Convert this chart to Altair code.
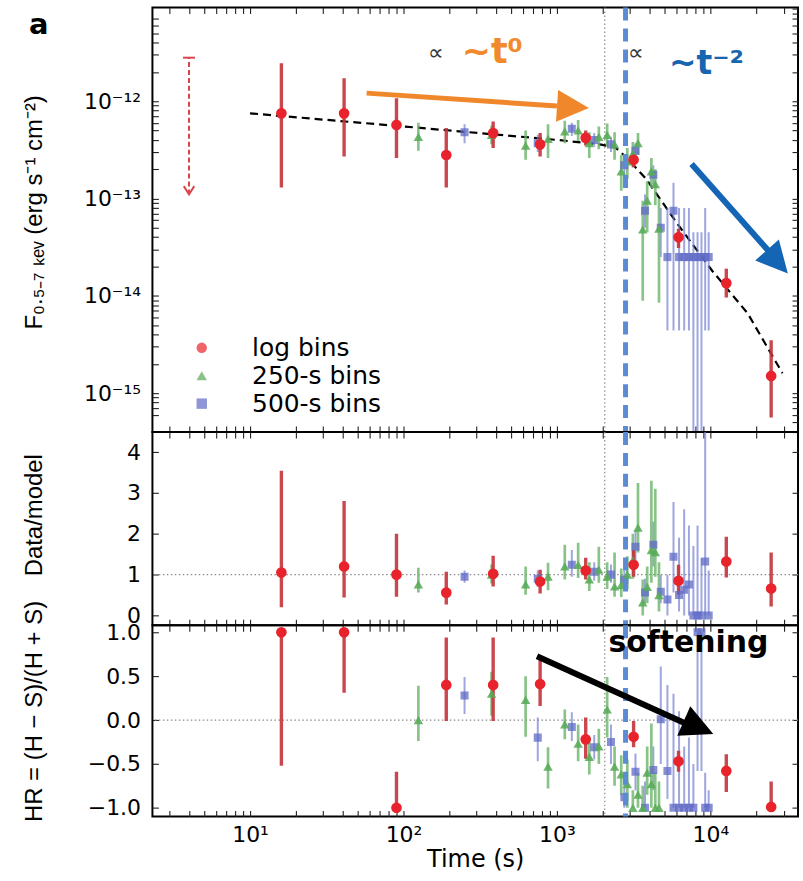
import altair as alt
import pandas as pd

# ------------------------------------------------------------------ data
SERIES = ["log bins", "250-s bins", "500-s bins"]

# log-binned points (red circles)
log_t = [16, 41, 90, 190, 384, 777, 1540, 3160, 6200, 12700, 24900]
log_flux = [7.5e-13, 7.5e-13, 5.7e-13, 2.8e-13, 4.7e-13, 3.6e-13, 4.2e-13, 2.5e-13, 4.0e-14, 1.35e-14, 1.5e-15]
log_flux_lo = [1.3e-13, 2.7e-13, 2.6e-13, 1.3e-13, 3.3e-13, 2.7e-13, 3.5e-13, 2.1e-13, 3.1e-14, 9.6e-15, 5.6e-16]
log_flux_hi = [2.45e-12, 1.72e-12, 1.07e-12, 5.3e-13, 6.2e-13, 4.7e-13, 5.0e-13, 2.9e-13, 4.9e-14, 1.9e-14, 3.5e-15]
log_ratio = [1.05, 1.2, 1.0, 0.56, 1.02, 0.83, 1.1, 1.24, 0.85, 1.32, 0.66]
log_ratio_lo = [0.2, 0.44, 0.46, 0.27, 0.71, 0.54, 0.88, 0.95, 0.51, 0.93, 0.22]
log_ratio_hi = [3.54, 2.8, 2.0, 1.07, 1.46, 1.12, 1.41, 1.6, 1.24, 1.93, 1.54]
log_hr = [1.0, 1.0, -1.0, 0.40, 0.40, 0.41, -0.22, -0.19, -0.47, -0.58, -0.99]
log_hr_lo = [-0.52, 0.31, -1.0, -0.01, -0.01, 0.16, -0.44, -0.31, -0.59, -0.82, -1.0]
log_hr_hi = [1.0, 1.0, -0.59, 0.94, 0.94, 0.69, 0.03, -0.01, -0.35, -0.39, -0.70]

# 250-s bins (green triangles)
g_t = [125, 375, 625, 875, 1125, 1375, 1625, 1875, 2125, 2375, 2625, 2875, 3125, 3375, 3625, 3875, 4125, 4375, 4625]
g_flux = [4.3e-13, 4.5e-13, 3.5e-13, 4.1e-13, 4.9e-13, 5.0e-13, 3.7e-13, 4.3e-13, 4.5e-13, 3.6e-13,
          1.9e-13, 2.4e-13, 2.9e-13, 3.7e-13, 4.8e-14, 9.5e-14, 1.9e-13, 1.4e-13, 4.9e-14]
g_flux_lo = [3.1e-13, 3.6e-13, 2.5e-13, 2.6e-13, 3.7e-13, 3.9e-13, 2.6e-13, 3.2e-13, 3.4e-13, 2.5e-13,
             1.2e-13, 1.6e-13, 2.1e-13, 2.8e-13, 8.9e-15, 4.5e-14, 1.3e-13, 8.5e-14, 8.5e-15]
g_flux_hi = [6.0e-13, 5.6e-13, 5.0e-13, 5.8e-13, 6.3e-13, 6.4e-13, 4.8e-13, 5.5e-13, 5.9e-13, 4.8e-13,
             2.8e-13, 3.3e-13, 3.8e-13, 4.7e-13, 9.5e-14, 1.5e-13, 2.6e-13, 2.0e-13, 1.0e-13]
g_ratio = [0.76, 1.0, 0.76, 0.95, 1.2, 1.24, 0.88, 1.12, 0.95, 0.71, 0.75, 1.0, 1.35, 2.15, 0.32, 0.7, 1.6, 1.55, 0.5]
g_ratio_lo = [0.56, 0.78, 0.51, 0.62, 0.88, 0.92, 0.6, 0.8, 0.65, 0.46, 0.45, 0.65, 0.9, 1.54, 0.0, 0.3, 0.8, 0.95, 0.1]
g_ratio_hi = [1.17, 1.25, 1.2, 1.29, 1.73, 1.78, 1.3, 1.68, 1.3, 1.54, 1.15, 1.45, 2.0, 3.24, 0.88, 1.2, 3.3, 3.1, 1.3]
g_hr = [0.0, 0.3, 0.23, -0.53, -0.05, -0.27, -0.42, -0.3, 0.12, -0.53, -0.62, -0.73, -1.0, -0.85, -1.0, -0.6, -0.73, -1.0, -1.0]
g_hr_lo = [-0.24, 0.05, -0.19, -0.78, -0.22, -0.47, -0.62, -0.5, -0.2, -0.75, -0.85, -1.0, -1.0, -1.0, -1.0, -0.85, -1.0, -1.0, -1.0]
g_hr_hi = [0.39, 0.55, 0.5, -0.31, 0.12, -0.05, -0.2, -0.1, 0.49, -0.3, -0.4, -0.45, -0.8, -0.6, -0.75, -0.3, -0.04, -0.6, -0.7]

# 500-s bins (blue squares)
b_t = [250, 750, 1250, 1750, 2250, 2750, 3250, 3750, 4250, 4750, 5250, 5750, 6250, 6750, 7250, 7750, 8250, 8750, 9250, 9750]
b_flux = [4.8e-13, 3.7e-13, 5.2e-13, 4.0e-13, 3.6e-13, 2.2e-13, 3.1e-13, 7.5e-14, 1.75e-13, 5.0e-14,
          2.5e-14, 7.5e-14, 2.5e-14, 2.5e-14, 2.5e-14, 2.5e-14, 2.5e-14, 2.5e-14, 2.5e-14, 2.5e-14]
b_flux_lo = [3.7e-13, 3.0e-13, 4.4e-13, 3.4e-13, 3.0e-13, 1.7e-13, 2.6e-13, 5.0e-14, 1.4e-13, 2.5e-14,
             4.4e-15, 4.4e-15, 4.4e-15, 4.4e-15, 4.4e-15, 1e-16, 1e-16, 1e-16, 4.4e-15, 4.4e-15]
b_flux_hi = [5.8e-13, 4.5e-13, 6.0e-13, 4.7e-13, 4.3e-13, 2.8e-13, 3.7e-13, 1.1e-13, 2.2e-13, 8.0e-14,
             8.0e-14, 1.45e-13, 8.0e-14, 8.0e-14, 8.0e-14, 4.5e-14, 4.5e-14, 4.5e-14, 8.0e-14, 4.5e-14]
b_ratio = [0.95, 0.9, 1.24, 1.07, 1.0, 0.88, 1.68, 0.56, 1.73, 0.58, 0.39, 1.44, 0.5, 0.63, 0.76, 0.0, 0.0, 0.0, 1.32, 0.0]
b_ratio_lo = [0.8, 0.7, 0.95, 0.85, 0.8, 0.7, 1.3, 0.3, 1.2, 0.3, 0.0, 0.56, 0.1, 0.0, 0.0, 0.0, 0.0, 0.0, 0.0, 0.0]
b_ratio_hi = [1.1, 1.1, 1.6, 1.3, 1.25, 1.1, 2.1, 0.9, 2.3, 1.0, 1.0, 2.78, 1.9, 2.6, 2.2, 1.7, 2.2, 1.4, 4.6, 1.1]
b_hr = [0.28, -0.2, -0.08, -0.31, -0.25, -0.88, -0.59, -1.0, -0.57, 0.01, -0.58, -1.0, -1.0, -1.0, -1.0, -1.0, 1.0, 1.0, -1.0, -1.0]
b_hr_lo = [0.07, -0.47, -0.24, -0.45, -0.5, -1.0, -0.8, -1.0, -0.8, -0.5, -0.9, -1.0, -1.0, -1.0, -1.0, -1.0, -0.58, -0.58, -1.0, -1.0]
b_hr_hi = [0.49, 0.03, 0.09, -0.17, -0.05, -0.65, -0.38, -0.7, -0.3, 0.61, 0.4, 0.3, 0.1, -0.3, -0.2, -0.5, 1.0, 1.0, -0.6, -0.8]

# broken power-law model (dashed black)
model_t = [10, 100, 1000, 1900, 2400, 2800, 3800, 6200, 10300, 17500, 29500]
model_flux = [7.5e-13, 5.5e-13, 4.0e-13, 3.6e-13, 3.35e-13, 2.7e-13, 1.6e-13, 5.3e-14, 1.8e-14, 6.6e-15, 1.6e-15]

# early upper limit
ul_t = [4.0]
ul_lo = [1.1e-13]
ul_hi = [2.8e-12]

# reference times
dotted_t = [2050]
dashed_t = [2800]

# ------------------------------------------------------------------ style
FILL = ["#e8232b", "#58aa58", "#5f6ac6"]
ERRC = ["#c4333a", "#6ab46a", "#7580d2"]
ERRW = [3.4, 2.0, 3.0]
ERRO = [0.9, 0.7, 0.6]
OPAC = [1.0, 0.75, 0.8]
SHAPES = ["circle", "triangle-up", "square"]
SIZES = [115, 65, 95]

W = 648
H_TOP, H_MID, H_BOT = 426, 194, 192
TICK = 6

X_SCALE = alt.Scale(type="log", domain=[2.31, 37260], nice=False)
Y_TOP = alt.Scale(type="log", domain=[3.98e-16, 9.16e-12], nice=False)
Y_MID = alt.Scale(domain=[-0.24, 4.49], nice=False, zero=False)
Y_BOT = alt.Scale(domain=[-1.10, 1.08], nice=False, zero=False)

X_TICKS = [k * 10 ** e for e in range(0, 5) for k in range(1, 10) if 2.31 <= k * 10 ** e <= 37260]
Y_TOP_TICKS_ALL = [float(f"{k}e{e}") for e in range(-16, -11) for k in range(1, 10)
                   if 3.98e-16 <= float(f"{k}e{e}") <= 9.16e-12]
Y_TOP_TICKS_LEFT = [v for v in Y_TOP_TICKS_ALL if 5.5e-16 <= v <= 7.5e-12]
Y_MID_TICKS = [0, 1, 2, 3, 4]
Y_BOT_TICKS = [-1.0, -0.5, 0.0, 0.5, 1.0]

X_LABEL_EXPR = ("datum.value == 10 ? '10¹' : datum.value == 100 ? '10²' : "
                "datum.value == 1000 ? '10³' : datum.value == 10000 ? '10⁴' : ''")
Y_TOP_LABEL_EXPR = ("(datum.value > 0.99e-15 && datum.value < 1.01e-15) ? '10⁻¹⁵' : "
                    "(datum.value > 0.99e-14 && datum.value < 1.01e-14) ? '10⁻¹⁴' : "
                    "(datum.value > 0.99e-13 && datum.value < 1.01e-13) ? '10⁻¹³' : "
                    "(datum.value > 0.99e-12 && datum.value < 1.01e-12) ? '10⁻¹²' : ''")

PAD_LEFT = 22
PAD_TOP = 2


def ax_bottom(labels):
    if labels:
        return alt.Axis(orient="bottom", values=X_TICKS, tickSize=TICK, offset=-TICK,
                        labelExpr=X_LABEL_EXPR, labelPadding=8, labelOverlap=False,
                        labelFlush=False, labelBound=False, title="Time (s)",
                        titleFont="DejaVu Sans", titleFontSize=24, titlePadding=2)
    return alt.Axis(orient="bottom", values=X_TICKS, tickSize=TICK, offset=-TICK,
                    labels=False, title=None)


def ax_top():
    return alt.Axis(orient="top", values=X_TICKS, tickSize=TICK, offset=-TICK,
                    labels=False, title=None)


def ax_left(values, title, title_y, label_expr=None, fmt=None):
    kw = dict(orient="left", values=values, tickSize=TICK, offset=-TICK, labelPadding=12,
              labelOverlap=False, labelFlush=False, labelBound=False, title=title,
              titlePadding=12, titleY=title_y, minExtent=100, maxExtent=100)
    if label_expr:
        kw["labelExpr"] = label_expr
    if fmt:
        kw["format"] = fmt
    return alt.Axis(**kw)


def ax_right(values):
    return alt.Axis(orient="right", values=values, tickSize=TICK, offset=-TICK,
                    labels=False, title=None, minExtent=0, maxExtent=0)


def frame(t, v, lo, hi, name):
    return pd.DataFrame({"t": t, "v": v, "lo": lo, "hi": hi, "series": name})


def xnone():
    return alt.X("t:Q", scale=X_SCALE, axis=None)


# legend placed inside the top panel (coordinates relative to that panel's plot area)
LEGEND = alt.Legend(title=None, orient="none", legendX=37, legendY=329,
                    symbolSize=110, labelFont="DejaVu Sans", labelFontSize=25, labelOffset=38,
                    rowPadding=2, padding=0, labelColor="black", symbolStrokeWidth=0)


def series_layers(df, yscale, yaxis_main, yticks_mirror, xaxis_main, legend):
    err = alt.Chart(df).mark_rule(clip=True).encode(
        x=alt.X("t:Q", scale=X_SCALE, axis=ax_top()),
        y=alt.Y("lo:Q", scale=yscale, axis=ax_right(yticks_mirror)),
        y2="hi:Q",
        stroke=alt.Stroke("series:N", scale=alt.Scale(domain=SERIES, range=ERRC), legend=None),
        strokeWidth=alt.StrokeWidth("series:N", scale=alt.Scale(domain=SERIES, range=ERRW), legend=None),
        strokeOpacity=alt.StrokeOpacity("series:N", scale=alt.Scale(domain=SERIES, range=ERRO), legend=None),
    )
    pts = alt.Chart(df).mark_point(filled=True, clip=True).encode(
        x=alt.X("t:Q", scale=X_SCALE, axis=xaxis_main),
        y=alt.Y("v:Q", scale=yscale, axis=yaxis_main),
        color=alt.Color("series:N", scale=alt.Scale(domain=SERIES, range=FILL), legend=legend),
        shape=alt.Shape("series:N", scale=alt.Scale(domain=SERIES, range=SHAPES), legend=legend),
        size=alt.Size("series:N", scale=alt.Scale(domain=SERIES, range=SIZES), legend=None),
        opacity=alt.Opacity("series:N", scale=alt.Scale(domain=SERIES, range=OPAC), legend=None),
        order=alt.Order("k:Q"),
    )
    return err, pts


def vlines():
    dotted = alt.Chart(pd.DataFrame({"t": dotted_t})).mark_rule(
        color="#8a8a8a", strokeWidth=1.2, strokeDash=[1.5, 2.5]).encode(x=xnone())
    dashed = alt.Chart(pd.DataFrame({"t": dashed_t})).mark_rule(
        color="#5b8bd3", strokeWidth=5, strokeDash=[13, 8]).encode(x=xnone())
    return dotted, dashed


def stack(*dfs):
    d = pd.concat(dfs, ignore_index=True)
    d["k"] = range(len(d))
    return d


# ------------------------------------------------------------------ top panel
top_df = stack(frame(b_t, b_flux, b_flux_lo, b_flux_hi, SERIES[2]),
               frame(g_t, g_flux, g_flux_lo, g_flux_hi, SERIES[1]),
               frame(log_t, log_flux, log_flux_lo, log_flux_hi, SERIES[0]))

err_top, pts_top = series_layers(
    top_df, Y_TOP,
    ax_left(Y_TOP_TICKS_LEFT, "F₀.₅₋₇ ₖₑᵥ (erg s⁻¹ cm⁻²)", 205, label_expr=Y_TOP_LABEL_EXPR),
    Y_TOP_TICKS_ALL, ax_bottom(False), LEGEND)

dot_top, dash_top = vlines()

model = alt.Chart(pd.DataFrame({"t": model_t, "f": model_flux})).mark_line(
    color="black", strokeWidth=2.2, strokeDash=[8, 5]).encode(
    x=xnone(), y=alt.Y("f:Q", scale=Y_TOP, axis=None))

ul_df = pd.DataFrame({"t": ul_t, "lo": ul_lo, "hi": ul_hi})
ul_rule = alt.Chart(ul_df).mark_rule(color="#d9464d", strokeWidth=2, strokeDash=[5, 3]).encode(
    x=xnone(), y=alt.Y("lo:Q", scale=Y_TOP, axis=None), y2="hi:Q")
ul_cap = alt.Chart(ul_df).mark_point(shape="M-1,0L1,0", size=144, filled=False, color="#d9464d",
                                     strokeWidth=2, opacity=1).encode(
    x=xnone(), y=alt.Y("hi:Q", scale=Y_TOP, axis=None))
ul_head = alt.Chart(ul_df).mark_point(shape="M-1,-1.6L0,0L1,-1.6", size=110, filled=False,
                                      color="#d9464d", strokeWidth=2, opacity=1).encode(
    x=xnone(), y=alt.Y("lo:Q", scale=Y_TOP, axis=None))

# annotation arrows (data coordinates)
arrows_top = pd.DataFrame({
    "x0": [57.5, 7540], "y0": [1.21e-12, 2.26e-13],
    "x1": [1000, 23800], "y1": [8.93e-13, 2.92e-14],
    "tx": [1615, 32000], "ty": [8.5e-13, 1.69e-14],
    "ang": [3.9, 48.6], "c": ["#f0872a", "#1565b5"], "w": [5, 6], "s": [1024, 1000],
})
shaft_top = alt.Chart(arrows_top).mark_rule(strokeCap="butt").encode(
    x=alt.X("x0:Q", scale=X_SCALE, axis=None), x2="x1:Q",
    y=alt.Y("y0:Q", scale=Y_TOP, axis=None), y2="y1:Q",
    color=alt.Color("c:N", scale=None), strokeWidth=alt.StrokeWidth("w:Q", scale=None))
head_top = alt.Chart(arrows_top).mark_point(shape="M0,0L-2,-1L-2,1Z", filled=True, opacity=1).encode(
    x=alt.X("tx:Q", scale=X_SCALE, axis=None), y=alt.Y("ty:Q", scale=Y_TOP, axis=None),
    angle=alt.Angle("ang:Q", scale=None), fill=alt.Fill("c:N", scale=None),
    size=alt.Size("s:Q", scale=None))

lab_a = alt.Chart(pd.DataFrame({"t": [0.42], "y": [6.0e-12], "s": ["a"]})).mark_text(
    font="DejaVu Sans", fontWeight="bold", fontSize=29, color="black", baseline="middle").encode(
    x=xnone(), y=alt.Y("y:Q", scale=Y_TOP, axis=None), text="s:N")
lab_prop = alt.Chart(pd.DataFrame({"t": [164, 3260], "y": [3.1e-12, 3.1e-12], "s": ["∝", "∝"]})).mark_text(
    font="Liberation Sans", fontSize=22, color="#333333", baseline="middle").encode(
    x=xnone(), y=alt.Y("y:Q", scale=Y_TOP, axis=None), text="s:N")
lab_t0 = alt.Chart(pd.DataFrame({"t": [379], "y": [2.45e-12], "s": ["~t⁰"]})).mark_text(
    font="DejaVu Sans", fontWeight="bold", fontSize=35, color="#f08a2c", baseline="alphabetic").encode(
    x=xnone(), y=alt.Y("y:Q", scale=Y_TOP, axis=None), text="s:N")
lab_t2 = alt.Chart(pd.DataFrame({"t": [9420], "y": [1.89e-12], "s": ["~t⁻²"]})).mark_text(
    font="DejaVu Sans", fontWeight="bold", fontSize=33, color="#1764b0", baseline="alphabetic").encode(
    x=xnone(), y=alt.Y("y:Q", scale=Y_TOP, axis=None), text="s:N")

top = alt.layer(dot_top, model, err_top, pts_top, ul_rule, ul_cap, ul_head, dash_top,
                shaft_top, head_top, lab_a, lab_prop, lab_t0, lab_t2).resolve_axis(
    x="independent", y="independent").properties(width=W, height=H_TOP)

# ------------------------------------------------------------------ middle panel
mid_df = stack(frame(b_t, b_ratio, b_ratio_lo, b_ratio_hi, SERIES[2]),
               frame(g_t, g_ratio, g_ratio_lo, g_ratio_hi, SERIES[1]),
               frame(log_t, log_ratio, log_ratio_lo, log_ratio_hi, SERIES[0]))
err_mid, pts_mid = series_layers(mid_df, Y_MID, ax_left(Y_MID_TICKS, "Data/model", 83, fmt="d"),
                                 Y_MID_TICKS, ax_bottom(False), None)
dot_mid, dash_mid = vlines()
h_mid = alt.Chart(pd.DataFrame({"y": [1]})).mark_rule(
    color="#8a8a8a", strokeWidth=1.2, strokeDash=[1.5, 2.5]).encode(y=alt.Y("y:Q", scale=Y_MID, axis=None))
mid = alt.layer(dot_mid, h_mid, err_mid, pts_mid, dash_mid).resolve_axis(
    x="independent", y="independent").properties(width=W, height=H_MID)

# ------------------------------------------------------------------ bottom panel
bot_df = stack(frame(b_t, b_hr, b_hr_lo, b_hr_hi, SERIES[2]),
               frame(g_t, g_hr, g_hr_lo, g_hr_hi, SERIES[1]),
               frame(log_t, log_hr, log_hr_lo, log_hr_hi, SERIES[0]))
err_bot, pts_bot = series_layers(bot_df, Y_BOT,
                                 ax_left(Y_BOT_TICKS, "HR = (H − S)/(H + S)", 86, fmt=".1f"),
                                 Y_BOT_TICKS, ax_bottom(True), None)
dot_bot, dash_bot = vlines()
h_bot = alt.Chart(pd.DataFrame({"y": [0]})).mark_rule(
    color="#8a8a8a", strokeWidth=1.2, strokeDash=[1.5, 2.5]).encode(y=alt.Y("y:Q", scale=Y_BOT, axis=None))

arrow_bot = pd.DataFrame({"x0": [741], "y0": [0.727], "x1": [6780], "y1": [-0.034],
                          "tx": [10450], "ty": [-0.159], "ang": [23.8]})
shaft_bot = alt.Chart(arrow_bot).mark_rule(color="black", strokeWidth=6, strokeCap="butt").encode(
    x=alt.X("x0:Q", scale=X_SCALE, axis=None), x2="x1:Q",
    y=alt.Y("y0:Q", scale=Y_BOT, axis=None), y2="y1:Q")
head_bot = alt.Chart(arrow_bot).mark_point(shape="M0,0L-2,-1L-2,1Z", filled=True, opacity=1,
                                           color="black", size=1050).encode(
    x=alt.X("tx:Q", scale=X_SCALE, axis=None), y=alt.Y("ty:Q", scale=Y_BOT, axis=None),
    angle=alt.Angle("ang:Q", scale=None))
lab_soft = alt.Chart(pd.DataFrame({"t": [7200], "y": [0.77], "s": ["softening"]})).mark_text(
    font="DejaVu Sans", fontWeight="bold", fontSize=30, color="black", baseline="alphabetic").encode(
    x=xnone(), y=alt.Y("y:Q", scale=Y_BOT, axis=None), text="s:N")

bot = alt.layer(dot_bot, h_bot, err_bot, pts_bot, dash_bot, shaft_bot, head_bot, lab_soft).resolve_axis(
    x="independent", y="independent").properties(width=W, height=H_BOT)

chart = alt.vconcat(top, mid, bot, spacing=0, bounds="flush").resolve_legend(
    color="independent", shape="independent"
).properties(
    padding={"left": PAD_LEFT, "top": PAD_TOP, "right": 3, "bottom": 0},
    background="white",
).configure_view(stroke="black", strokeWidth=2).configure_axis(
    labelFont="DejaVu Sans", labelFontSize=22, labelColor="black",
    titleFont="Liberation Sans", titleFontSize=24, titleFontWeight="normal", titleColor="black",
    tickColor="#222222", tickWidth=1.1, grid=False, domain=False,
)

chart.save("out.html", embed_options={"renderer": "svg", "actions": False})
